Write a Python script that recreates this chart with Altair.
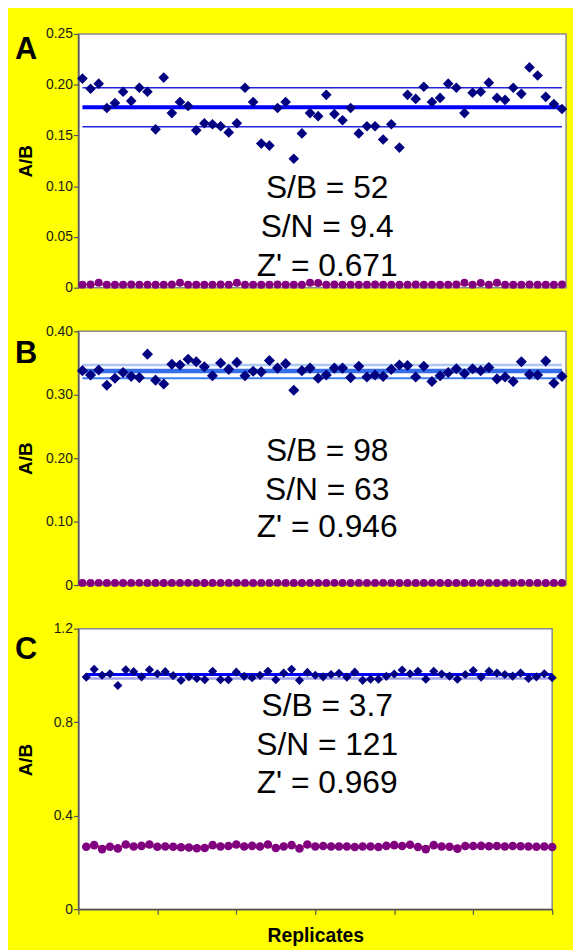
import altair as alt
import pandas as pd

replicates = list(range(1, 61))

a_high = [0.206, 0.196, 0.201, 0.177, 0.182, 0.193, 0.184, 0.197, 0.193, 0.156,
          0.207, 0.172, 0.183, 0.179, 0.155, 0.162, 0.161, 0.159, 0.153, 0.162,
          0.197, 0.183, 0.142, 0.140, 0.177, 0.183, 0.127, 0.152, 0.172, 0.169,
          0.190, 0.171, 0.165, 0.177, 0.152, 0.159, 0.159, 0.146, 0.161, 0.138,
          0.190, 0.186, 0.198, 0.183, 0.187, 0.201, 0.197, 0.172, 0.192, 0.193,
          0.202, 0.187, 0.185, 0.197, 0.191, 0.217, 0.209, 0.188, 0.181, 0.176]
a_low = [0.0030, 0.0031, 0.0048, 0.0030, 0.0029, 0.0030, 0.0031, 0.0030, 0.0030, 0.0029,
         0.0030, 0.0031, 0.0048, 0.0030, 0.0030, 0.0029, 0.0030, 0.0031, 0.0030, 0.0048,
         0.0030, 0.0030, 0.0029, 0.0030, 0.0031, 0.0030, 0.0030, 0.0029, 0.0048, 0.0047,
         0.0030, 0.0031, 0.0030, 0.0030, 0.0029, 0.0030, 0.0031, 0.0030, 0.0030, 0.0029,
         0.0030, 0.0031, 0.0030, 0.0030, 0.0029, 0.0030, 0.0031, 0.0048, 0.0030, 0.0047,
         0.0030, 0.0048, 0.0030, 0.0029, 0.0030, 0.0031, 0.0030, 0.0030, 0.0029, 0.0031]
a_lines = [0.197, 0.1585, 0.1777]

b_high = [0.338, 0.331, 0.339, 0.315, 0.326, 0.335, 0.329, 0.327, 0.364, 0.323,
          0.317, 0.348, 0.347, 0.356, 0.352, 0.344, 0.330, 0.350, 0.340, 0.351,
          0.330, 0.337, 0.336, 0.354, 0.342, 0.349, 0.307, 0.338, 0.342, 0.326,
          0.331, 0.342, 0.342, 0.327, 0.345, 0.328, 0.331, 0.329, 0.340, 0.347,
          0.346, 0.328, 0.345, 0.321, 0.330, 0.335, 0.341, 0.333, 0.341, 0.338,
          0.343, 0.325, 0.328, 0.321, 0.352, 0.332, 0.331, 0.353, 0.318, 0.329]
b_low = [0.0034, 0.0033, 0.0035, 0.0034, 0.0034, 0.0033, 0.0034, 0.0035, 0.0034, 0.0034,
         0.0033, 0.0034, 0.0034, 0.0035, 0.0034, 0.0033, 0.0034, 0.0034, 0.0034, 0.0035,
         0.0034, 0.0033, 0.0034, 0.0034, 0.0035, 0.0034, 0.0034, 0.0033, 0.0034, 0.0034,
         0.0034, 0.0035, 0.0034, 0.0033, 0.0034, 0.0034, 0.0034, 0.0035, 0.0034, 0.0033,
         0.0034, 0.0034, 0.0034, 0.0035, 0.0034, 0.0033, 0.0034, 0.0034, 0.0034, 0.0035,
         0.0034, 0.0033, 0.0034, 0.0034, 0.0035, 0.0034, 0.0034, 0.0033, 0.0034, 0.0034]
b_lines = [0.3469, 0.326, 0.3375]

c_high = [0.993, 1.026, 1.001, 1.007, 0.957, 1.024, 1.016, 0.994, 1.024, 1.007,
          1.016, 0.999, 0.979, 0.994, 0.987, 0.982, 1.018, 0.982, 0.982, 1.014,
          0.996, 0.990, 1.000, 1.018, 0.982, 1.010, 1.026, 0.979, 1.013, 1.001,
          0.994, 1.004, 1.009, 0.993, 1.014, 0.979, 0.984, 0.984, 0.996, 1.006,
          1.023, 1.007, 1.018, 0.984, 1.018, 1.006, 0.997, 0.984, 1.004, 1.021,
          0.993, 1.018, 1.010, 1.004, 0.997, 1.010, 0.987, 0.994, 1.007, 0.990]
c_low = [0.267, 0.274, 0.257, 0.267, 0.260, 0.277, 0.268, 0.271, 0.277, 0.267,
         0.268, 0.267, 0.265, 0.264, 0.261, 0.262, 0.274, 0.268, 0.270, 0.277,
         0.268, 0.271, 0.268, 0.277, 0.262, 0.268, 0.274, 0.260, 0.277, 0.268,
         0.270, 0.268, 0.268, 0.268, 0.266, 0.268, 0.268, 0.266, 0.271, 0.274,
         0.270, 0.276, 0.266, 0.257, 0.274, 0.268, 0.267, 0.259, 0.270, 0.270,
         0.271, 0.269, 0.270, 0.268, 0.270, 0.269, 0.268, 0.267, 0.268, 0.266]
c_lines = [0.987, 1.004]

a_stats = ["S/B = 52", "S/N = 9.4", "Z' = 0.671"]
b_stats = ["S/B = 98", "S/N = 63", "Z' = 0.946"]
c_stats = ["S/B = 3.7", "S/N = 121", "Z' = 0.969"]

a_ticks = [0, 0.05, 0.10, 0.15, 0.20, 0.25]
b_ticks = [0, 0.10, 0.20, 0.30, 0.40]
c_ticks = [0, 0.4, 0.8, 1.2]
x_ticks = [0, 10, 20, 30, 40, 50, 60]

NAVY = "#000080"
PURPLE = "#800080"
FONT = "Liberation Sans"


def panel(letter, high, low, line_vals, line_colors, line_widths, ydom, yticks,
          fmt, stats, stats_y, letter_y, title_y, width, height, xdom,
          hsize, lsize, show_x):
    df = pd.DataFrame({"rep": replicates, "high": high, "low": low})
    low_mean = sum(low) / len(low)
    ldf = pd.DataFrame({
        "x": [1] * (len(line_vals) + 1),
        "x2": [60] * (len(line_vals) + 1),
        "y": [low_mean] + line_vals,
        "c": ["#ff0000"] + line_colors,
        "w": [1.5] + line_widths,
        "o": list(range(len(line_vals) + 1)),
    })
    xscale = alt.Scale(domain=xdom, nice=False, zero=False)
    yscale = alt.Scale(domain=ydom, nice=False)
    if show_x:
        xaxis = alt.Axis(values=x_ticks, labels=False, tickSize=5, title="Replicates",
                         titleFontSize=19.5, titlePadding=12, domainColor="#555555",
                         tickColor="#555555", domainWidth=1.5, tickWidth=1.2)
    else:
        xaxis = None
    yaxis = alt.Axis(values=yticks, labelExpr=f"datum.value == 0 ? '0' : format(datum.value, '{fmt}')",
                     tickSize=5, title="A/B", titleFontSize=19, titleX=-47, titleY=title_y,
                     titleAngle=270, titleBaseline="alphabetic", titleAlign="center",
                     domainColor="#555555", tickColor="#555555", domainWidth=1.5, tickWidth=1.2,
                     labelPadding=1)
    rules = alt.Chart(ldf).mark_rule().encode(
        x=alt.X("x:Q", scale=xscale, axis=xaxis),
        x2="x2:Q",
        y=alt.Y("y:Q", scale=yscale, axis=yaxis),
        color=alt.Color("c:N", scale=None),
        strokeWidth=alt.StrokeWidth("w:Q", scale=None),
        order="o:Q",
    )
    lows = alt.Chart(df).mark_circle(color=PURPLE, opacity=1, size=lsize).encode(
        x=alt.X("rep:Q", scale=xscale, axis=xaxis),
        y=alt.Y("low:Q", scale=yscale, axis=yaxis),
    )
    highs = alt.Chart(df).mark_point(shape="diamond", filled=True, color=NAVY,
                                     opacity=1, size=hsize).encode(
        x=alt.X("rep:Q", scale=xscale, axis=xaxis),
        y=alt.Y("high:Q", scale=yscale, axis=yaxis),
    )
    layers = [rules, lows, highs]
    for t, py in zip(stats, stats_y):
        layers.append(
            alt.Chart(pd.DataFrame({"t": [t]})).mark_text(
                font=FONT, fontSize=32, align="center", baseline="middle", color="black"
            ).encode(text="t:N", x=alt.value(251), y=alt.value(py))
        )
    layers.append(
        alt.Chart(pd.DataFrame({"t": [letter]})).mark_text(
            font=FONT, fontSize=31, fontWeight="bold", align="left",
            baseline="alphabetic", color="black"
        ).encode(text="t:N", x=alt.value(-64), y=alt.value(letter_y))
    )
    return alt.layer(*layers).properties(width=width, height=height)


pa = panel("A", a_high, a_low, a_lines, ["#2323e0", "#2323e0", "#0000ff"], [1.5, 1.5, 4],
           [0, 0.25], a_ticks, ".2f", a_stats, [156, 195, 234], 25, 128,
           492, 256, [0.5, 60.5], 115, 64, False)
pb = panel("B", b_high, b_low, b_lines, ["#aec6f2", "#3f7cf0", "#356ee8"], [2.5, 2, 4.5],
           [0, 0.40], b_ticks, ".2f", b_stats, [121, 160, 198], 32, 128,
           492, 256, [0.5, 60.5], 125, 64, False)
pc = panel("C", c_high, c_low, c_lines, ["#a3a3ea", "#0000ff"], [2.5, 3],
           [0, 1.2], c_ticks, ".1f", c_stats, [78, 117, 156], 31, 132,
           478, 283, [0, 60], 85, 75, True)

chart = alt.vconcat(pa, pb, pc, spacing=44, bounds="flush").properties(
    background="#FFFF00",
    padding={"left": 6, "top": 14, "right": 4, "bottom": 0},
).configure_view(
    stroke="#8a8a8a", strokeWidth=1.5, fill="white"
).configure_axis(
    labelFont=FONT, labelFontSize=14, labelColor="#1a1a1a",
    titleFont=FONT, titleFontWeight="bold", titleColor="black", grid=False,
)

chart.save("out.html", embed_options={"renderer": "svg", "actions": False})
